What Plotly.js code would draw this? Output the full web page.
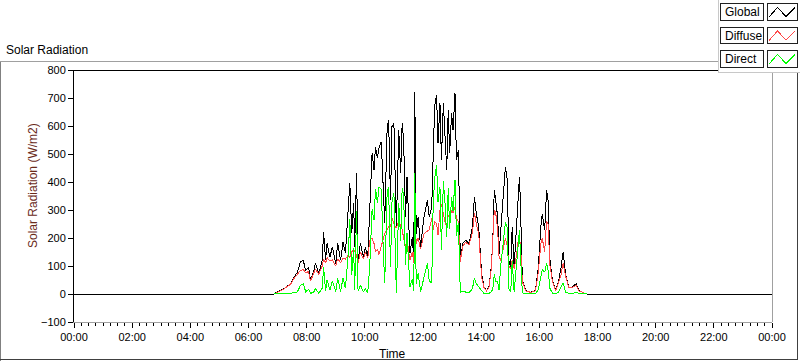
<!DOCTYPE html>
<html>
<head>
<meta charset="utf-8">
<script src="https://cdn.plot.ly/plotly-3.0.1.min.js"></script>
<style>
html,body{margin:0;padding:0;background:#fff;}
#chart{width:800px;height:361px;}
#chart .scatterlayer path, #chart .layer-above path { shape-rendering: crispEdges; }
</style>
</head>
<body>
<div id="chart"></div>
<script>
// ---- data ----
const dayTimes = [
 "06:52","07:13","07:27","07:34","07:41","07:47","07:53","07:58","08:04","08:08",
 "08:15","08:18","08:25","08:32","08:35","08:39","08:42","08:48","08:53","09:00",
 "09:04","09:10","09:15","09:20","09:26","09:29","09:33","09:37","09:39","09:43",
 "09:46","09:51","09:57","10:01","10:06","10:10","10:15","10:19","10:22","10:26",
 "10:29","10:34","10:38","10:41","10:46","10:49","10:53","10:56","11:00","11:05",
 "11:10","11:14","11:17","11:20","11:24","11:27","11:33","11:38","11:41","11:43",
 "11:46","11:50","11:55","12:02","12:09","12:13","12:18","12:21","12:24","12:28",
 "12:31","12:35","12:38","12:42","12:45","12:49","12:52","12:55","12:59","13:02",
 "13:06","13:09","13:13","13:17","13:22","13:28","13:35","13:42","13:46","13:50",
 "13:55","14:01","14:06","14:11","14:16","14:21","14:24","14:27","14:30","14:34",
 "14:37","14:40","14:44","14:47","14:50","14:54","14:57","15:01","15:04","15:08",
 "15:13","15:17","15:19","15:21","15:25","15:32","15:42","15:52","15:58","16:03",
 "16:06","16:11","16:15","16:18","16:22","16:27","16:34","16:40","16:45","16:49",
 "16:54","17:01","17:08","17:16","17:22","17:32","17:39"
];
const globalVals = [
 0,19,37,60,78,114,120,84,96,48,
 84,109,73,120,221,120,181,132,168,109,
 181,120,186,145,288,396,217,324,168,431,
 120,181,132,168,132,288,502,443,526,485,
 521,544,360,253,592,622,335,598,610,239,
 586,431,610,550,275,419,145,204,120,723,
 216,275,168,275,335,275,311,550,670,711,
 538,682,478,682,598,443,658,502,646,586,
 718,478,514,120,180,192,180,239,347,287,
 239,72,24,12,24,100,192,371,335,275,
 144,216,311,407,455,407,120,96,239,96,
 263,395,419,323,48,12,6,12,96,239,
 287,228,371,335,120,48,12,48,96,150,
 72,24,24,37,12,4,0
];
const diffuseVals = [
 0,18,35,56,70,84,88,76,80,46,
 76,90,70,100,125,110,130,118,122,100,
 125,112,128,125,140,130,150,160,155,135,
 110,150,125,150,128,190,200,180,150,160,
 140,170,200,215,230,240,240,270,250,235,
 260,240,230,200,170,200,120,150,110,290,
 180,200,160,215,225,230,270,230,260,250,
 210,300,320,280,260,240,280,270,300,290,
 310,270,260,115,170,185,175,220,290,250,
 215,60,22,11,22,92,175,300,290,230,
 130,120,150,180,200,170,100,90,120,90,
 140,200,190,180,44,11,6,11,80,180,
 200,150,261,250,100,45,11,40,70,110,
 65,22,23,30,11,4,0
];
const directVals = [
 0,1,2,4,8,30,37,8,16,2,
 8,19,3,20,96,10,51,14,46,9,
 56,8,58,20,148,266,67,164,13,296,
 10,31,7,18,4,98,302,263,376,325,
 381,374,160,38,362,382,95,328,360,4,
 326,191,380,350,105,219,25,54,10,433,
 36,75,8,60,110,45,41,320,410,461,
 328,382,158,402,338,203,378,232,346,296,
 408,208,254,5,10,7,5,19,57,37,
 24,12,2,1,2,8,17,71,45,45,
 14,96,161,227,255,237,20,6,119,6,
 123,195,229,143,4,1,0,1,16,59,
 87,78,110,85,20,3,1,8,26,40,
 7,2,1,7,1,0,0
];
const seriesNames = ["Global","Diffuse","Direct"];
const seriesColors = ["#000000","#ff4848","#00ff00"];
const yTickVals = [-100,0,100,200,300,400,500,600,700,800];

// ---- helpers ----
const DAY = "2020-01-01 ";
const toDate = t => (t === "24:00" ? "2020-01-02 00:00" : DAY + t);
const dayX = dayTimes.map(toDate);

// plot area in pixels
const L = 74, R = 772, T = 70, B = 322;
const px = x => (x - L) / (R - L);
const py = y => (B - y) / (B - T);
const FONT = "Liberation Sans, Arial, sans-serif";

const traces = [
  {x: [toDate("00:00")].concat(dayX, [toDate("24:00")]),
   y: [0].concat(globalVals, [0]),
   name: seriesNames[0], type: "scatter", mode: "lines",
   line: {color: seriesColors[0], width: 1}},
  {x: dayX, y: diffuseVals, name: seriesNames[1], type: "scatter", mode: "lines",
   line: {color: seriesColors[1], width: 1}},
  {x: dayX, y: directVals, name: seriesNames[2], type: "scatter", mode: "lines",
   line: {color: seriesColors[2], width: 1}}
];

const shapes = [];
const line = (x0, y0, x1, y1, color) => shapes.push({
  type: "line", xref: "paper", yref: "paper", layer: "above",
  x0: px(x0), y0: py(y0), x1: px(x1), y1: py(y1),
  line: {color: color, width: 1}
});
// outer panel frame
line(0, 61.5, 800, 61.5, "#a0a0a0");
line(0.5, 61.5, 0.5, 360.5, "#808080");
line(0, 359.5, 798, 359.5, "#404040");
line(797.5, 72, 797.5, 360, "#404040");
// plot frame
line(L, 70, R, 70, "#000000");
line(R, 70, R, 322, "#a0a0a0");

// legend panel
shapes.push({type: "rect", xref: "paper", yref: "paper", layer: "above",
  x0: px(718), y0: py(72), x1: px(802), y1: py(-2),
  fillcolor: "#ffffff", line: {color: "#c8c8c8", width: 1}});

const annotations = [];
const legTop = [3.5, 27, 50.5];
seriesNames.forEach((nm, i) => {
  const t = legTop[i], b = t + 16.5;
  shapes.push({type: "rect", xref: "paper", yref: "paper", layer: "above",
    x0: px(720.5), y0: py(b), x1: px(763.5), y1: py(t),
    fillcolor: "#ffffff", line: {color: "#202020", width: 1}});
  shapes.push({type: "rect", xref: "paper", yref: "paper", layer: "above",
    x0: px(767.5), y0: py(b), x1: px(797.5), y1: py(t),
    fillcolor: "#ffffff", line: {color: "#202020", width: 1}});
  const zz = [[769, t + 13.5], [777.5, t + 4], [786, t + 13], [795, t + 4]];
  const path = zz.map((p, k) => (k ? "L" : "M") + px(p[0]) + "," + py(p[1])).join(" ");
  shapes.push({type: "path", xref: "paper", yref: "paper", layer: "above", path: path,
    line: {color: seriesColors[i], width: 1}});
  annotations.push({xref: "paper", yref: "paper", x: px(723), y: py(t + 8.5),
    xanchor: "left", yanchor: "middle", showarrow: false, text: nm,
    font: {family: FONT, size: 12, color: "#000"}});
});

annotations.push({xref: "paper", yref: "paper", x: px(4), y: py(50),
  xanchor: "left", yanchor: "middle", showarrow: false, text: "Solar Radiation",
  font: {family: FONT, size: 12, color: "#000"}});
annotations.push({xref: "paper", yref: "paper", x: px(33), y: py(186),
  xanchor: "center", yanchor: "middle", showarrow: false, textangle: -90,
  text: "Solar Radiation (W/m2)",
  font: {family: FONT, size: 12, color: "#6a2a1a"}});
annotations.push({xref: "paper", yref: "paper", x: px(392), y: py(354),
  xanchor: "center", yanchor: "middle", showarrow: false, text: "Time",
  font: {family: FONT, size: 12, color: "#000"}});

const layout = {
  width: 800, height: 361,
  margin: {l: L, r: 800 - R, t: T, b: 361 - B, pad: 0},
  paper_bgcolor: "#ffffff", plot_bgcolor: "#ffffff",
  showlegend: false,
  font: {family: FONT, size: 11, color: "#000"},
  xaxis: {
    type: "date",
    range: [toDate("00:00"), toDate("24:00")],
    dtick: 7200000, tick0: toDate("00:00"),
    tickformat: "%H:%M",
    ticks: "outside", ticklen: 5, tickcolor: "#000", tickwidth: 1,
    minor: {dtick: 900000, ticks: "outside", ticklen: 3, tickcolor: "#000", tickwidth: 1, showgrid: false},
    showgrid: false, zeroline: false,
    showline: true, linecolor: "#a0a0a0", linewidth: 1,
    tickfont: {family: FONT, size: 11, color: "#000"},
    fixedrange: true
  },
  yaxis: {
    range: [-100, 800],
    tickvals: yTickVals,
    ticks: "outside", ticklen: 5, tickcolor: "#000", tickwidth: 1,
    showgrid: false, zeroline: false,
    showline: true, linecolor: "#000", linewidth: 1,
    tickfont: {family: FONT, size: 11, color: "#000"},
    fixedrange: true
  },
  shapes: shapes,
  annotations: annotations
};

Plotly.newPlot("chart", traces, layout, {displayModeBar: false, staticPlot: true});
</script>
</body>
</html>
